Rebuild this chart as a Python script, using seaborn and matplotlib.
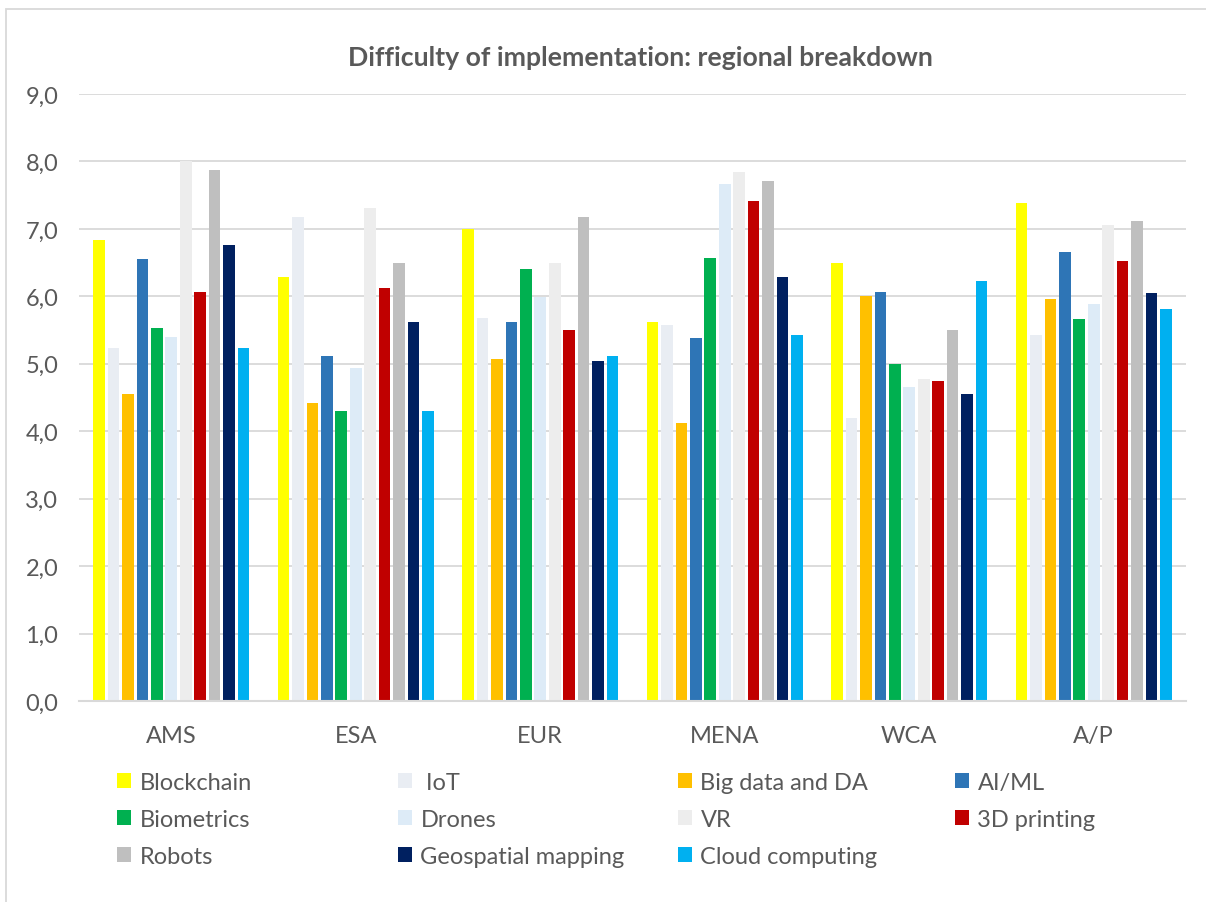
import numpy as np
import pandas as pd
import matplotlib
matplotlib.use("Agg")
import matplotlib.pyplot as plt
import seaborn as sns
from matplotlib.ticker import FuncFormatter
from matplotlib.patches import Rectangle

regions = ["AMS", "ESA", "EUR", "MENA", "WCA", "A/P"]
techs = ["Blockchain", "IoT", "Big data and DA", "AI/ML", "Biometrics", "Drones",
         "VR", "3D printing", "Robots", "Geospatial mapping", "Cloud computing"]
legend_labels = ["Blockchain", " IoT", "Big data and DA", "AI/ML", "Biometrics", "Drones",
                 "VR", "3D printing", "Robots", "Geospatial mapping", "Cloud computing"]
colors = ["#FFFF00", "#E9EDF3", "#FFC000", "#2E75B6", "#00B050", "#DDEBF7",
          "#EDEDED", "#C00000", "#BFBFBF", "#002060", "#00B0F0"]

blockchain = [6.84, 6.28, 7.00, 5.62, 6.49, 7.39]
iot        = [5.23, 7.18, 5.68, 5.57, 4.20, 5.43]
bigdata    = [4.55, 4.42, 5.07, 4.12, 6.00, 5.96]
aiml       = [6.55, 5.11, 5.62, 5.38, 6.07, 6.66]
biometrics = [5.53, 4.30, 6.41, 6.57, 5.00, 5.66]
drones     = [5.40, 4.94, 5.99, 7.67, 4.66, 5.89]
vr         = [8.00, 7.31, 6.50, 7.85, 4.77, 7.06]
printing3d = [6.06, 6.13, 5.50, 7.42, 4.75, 6.52]
robots     = [7.88, 6.50, 7.18, 7.71, 5.50, 7.11]
geospatial = [6.76, 5.62, 5.04, 6.28, 4.55, 6.05]
cloud      = [5.23, 4.30, 5.12, 5.43, 6.22, 5.81]

series = [blockchain, iot, bigdata, aiml, biometrics, drones, vr,
          printing3d, robots, geospatial, cloud]

rows = []
for t, vals in zip(techs, series):
    for r, v in zip(regions, vals):
        rows.append({"region": r, "tech": t, "value": v})
df = pd.DataFrame(rows)

sns.set_theme(style="white")
plt.rcParams["font.family"] = ["Lato", "DejaVu Sans"]
text_color = "#595959"

fig = plt.figure(figsize=(12.06, 9.03), dpi=100)
ax = fig.add_axes([79/1206, 1-702/903, (1186-79)/1206, (702-95)/903])

sns.barplot(data=df, x="region", y="value", hue="tech", order=regions,
            hue_order=techs, palette=colors, width=0.86, gap=0.19,
            saturation=1, linewidth=0, ax=ax, legend=True)

ax.set_ylim(0, 9)
ax.set_yticks(np.arange(0, 9.01, 1))
ax.yaxis.set_major_formatter(FuncFormatter(lambda v, p: f"{v:.1f}".replace(".", ",")))
ax.grid(axis="y", color="#D9D9D9", linewidth=1.3)
ax.set_axisbelow(True)
for s in ["top", "right", "left"]:
    ax.spines[s].set_visible(False)
ax.spines["bottom"].set_color("#D9D9D9")
ax.spines["bottom"].set_linewidth(1.5)
ax.tick_params(axis="both", length=0, labelsize=17, colors=text_color)
ax.tick_params(axis="y", pad=15)
ax.tick_params(axis="x", pad=17)
ax.set_xlabel("")
ax.set_ylabel("")

handles, labels = ax.get_legend_handles_labels()
ax.get_legend().remove()

# legend laid out row-wise in four fixed columns
col_x = [117, 398, 678, 955]
for c in range(4):
    idx = list(range(c, len(handles), 4))
    leg = fig.legend([handles[i] for i in idx], [legend_labels[i] for i in idx],
                     loc="upper left", bbox_to_anchor=(col_x[c]/1206, 1-773/903),
                     frameon=False, fontsize=17, handlelength=0.6, handleheight=0.6,
                     handletextpad=0.35, labelspacing=0.67,
                     borderaxespad=0, borderpad=0)
    for t in leg.get_texts():
        t.set_color(text_color)

fig.text(640/1206, 1-58/903, "Difficulty of implementation: regional breakdown",
         ha="center", va="center", fontsize=19.2, fontweight="bold", color=text_color)

fig.patches.append(Rectangle((6/1206, -0.1), 1.2, 1 - 10/903 + 0.1,
                             transform=fig.transFigure, fill=False,
                             edgecolor="#D9D9D9", linewidth=1.3))

fig.savefig("out.png", dpi=100)
